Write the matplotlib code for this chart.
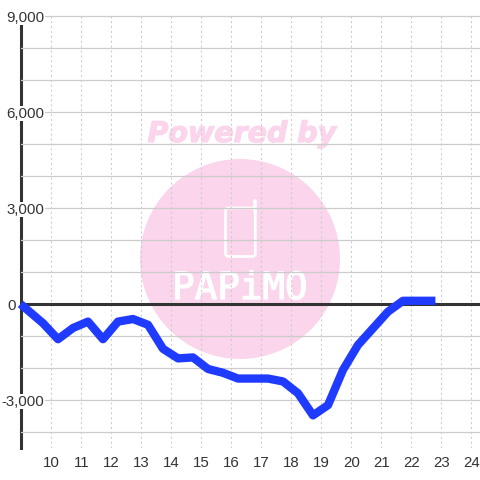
import matplotlib
matplotlib.use("Agg")
import matplotlib.pyplot as plt
import matplotlib.patheffects as pe
from matplotlib.patches import Circle, FancyBboxPatch
from matplotlib.transforms import IdentityTransform, Affine2D

hours = [9.0, 9.75, 10.25, 10.75, 11.25, 11.75, 12.25, 12.75, 13.25, 13.75, 14.25, 14.75,
         15.25, 15.75, 16.25, 16.75, 17.25, 17.75, 18.25, 18.75, 19.25, 19.75, 20.25,
         20.75, 21.25, 21.75, 22.25, 22.83]
values = [0, -600, -1100, -750, -550, -1100, -550, -470, -650, -1400, -1700, -1670,
          -2030, -2150, -2330, -2330, -2330, -2420, -2790, -3480, -3160, -2060, -1280,
          -760, -240, 100, 100, 100]
x_ticks = list(range(10, 25))
y_grid = list(range(-4000, 10000, 1000))
y_labelled = {9000: "9,000", 6000: "6,000", 3000: "3,000", 0: "0", -3000: "-3,000"}

DARK = "#333333"
GRID = "#cccccc"
PINK = "#fbd5ec"
BLUE = "#1f3bff"

plt.rcParams["font.family"] = ["Liberation Sans", "DejaVu Sans"]
fig = plt.figure(figsize=(4.8, 4.8), dpi=100)
left, right, top, bottom = 20.5, 480, 15, 448
ax = fig.add_axes([left / 480, 1 - bottom / 480, (right - left) / 480, (bottom - top) / 480])
ax.set_xlim(9, 9 + (right - left) / 30)
ax.set_ylim(-(bottom - 304) * 31.25, (304 - top) * 31.25)
ax.patch.set_alpha(0)
for s in ("top", "right", "bottom"):
    ax.spines[s].set_visible(False)
ax.spines["left"].set_linewidth(2.2)
ax.spines["left"].set_color(DARK)
ax.spines["left"].set_zorder(3)

ax.set_xticks(x_ticks)
ax.set_yticks(y_grid)
ax.set_yticklabels([y_labelled.get(v, "") for v in y_grid])
ax.tick_params(length=0)
ax.tick_params(axis="x", pad=5.5, labelsize=10.8, labelcolor=DARK)
ax.tick_params(axis="y", pad=-17, labelsize=10.8, labelcolor=DARK)
ax.grid(axis="y", color=GRID, lw=0.9, ls="-")
ax.grid(axis="x", color=GRID, lw=0.8, ls=(0, (1.8, 2.6)))
ax.yaxis.set_zorder(4)
ax.xaxis.set_zorder(1)
for v, lab in zip(y_grid, ax.get_yticklabels()):
    if v in y_labelled:
        lab.set_bbox(dict(facecolor="white", edgecolor="none", pad=0.6))
    if v == 0:
        lab.set_transform(lab.get_transform() + Affine2D().translate(-28, 0))
        lab.set_bbox(None)
for lab in ax.get_xticklabels():
    lab.set_transform(lab.get_transform() + Affine2D().translate(0.7, 0))

ax.axhline(0, color=DARK, lw=2.2, zorder=5)
ax.plot(hours, values, color=BLUE, lw=6.0, solid_joinstyle="round",
        solid_capstyle="butt", zorder=6, clip_on=False)

# watermark, in pixel coordinates (y flipped)
T = IdentityTransform()
Y = lambda y: 480 - y
ax.add_artist(Circle((240, Y(259)), 100, transform=T, facecolor=PINK, edgecolor="none", zorder=0, clip_on=False))
ax.text(242, Y(134), "Powered by", transform=T, color=PINK, fontsize=20.5, fontweight="bold",
        fontstyle="italic", family=["DejaVu Sans"], ha="center", va="center", zorder=0, clip_on=False,
        path_effects=[pe.withStroke(linewidth=0.9, foreground=PINK)])
ax.add_artist(FancyBboxPatch((225.5, Y(256.5)), 29.8, 48.5, boxstyle="round,pad=0,rounding_size=3", transform=T,
                             facecolor="none", edgecolor="white", lw=2.0, zorder=0.5, clip_on=False))
ax.plot([255.3, 255.3], [Y(201), Y(212)], transform=T, color="white", lw=2.6,
        solid_capstyle="round", zorder=0.5, clip_on=False, scalex=False, scaley=False)
ax.text(240, Y(289), "PAPiMO", transform=T, color="white", fontsize=27, family=["DejaVu Sans Mono"],
        ha="center", va="center", zorder=0.5, clip_on=False,
        path_effects=[pe.withStroke(linewidth=0.9, foreground="white")])

fig.savefig("out.png", dpi=100, facecolor="white")
